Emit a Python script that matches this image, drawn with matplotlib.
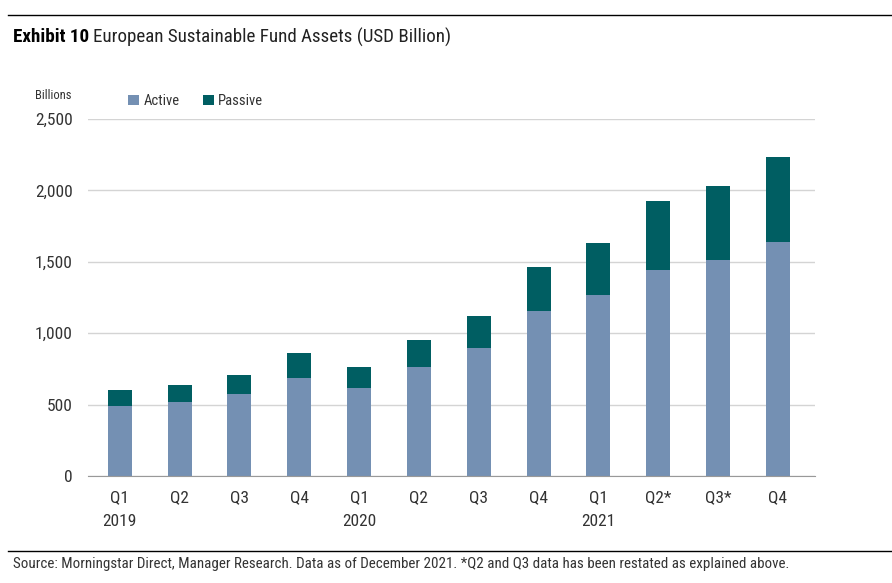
import matplotlib.pyplot as plt
from matplotlib import font_manager
import numpy as np

# =========================================================
# Data (USD billion)
# =========================================================
quarters = ["Q1\n2019", "Q2", "Q3", "Q4", "Q1\n2020", "Q2", "Q3", "Q4",
            "Q1\n2021", "Q2*", "Q3*", "Q4"]
active = [490, 518, 574, 686, 616, 763, 896, 1155, 1267, 1442, 1512, 1638]
passive = [112, 119, 133, 175, 147, 189, 224, 309, 365, 484, 519, 596]
yticks = [0, 500, 1000, 1500, 2000, 2500]

ACTIVE_COLOR = "#7490b3"
PASSIVE_COLOR = "#005e62"
TEXT_COLOR = "#333333"

# narrowest family that is available
names = {f.name for f in font_manager.fontManager.ttflist}
FONT = "DejaVu Sans"
for cand in ["Roboto Condensed", "Liberation Sans Narrow", "Roboto", "Liberation Sans"]:
    if cand in names:
        FONT = cand
        break
plt.rcParams["font.family"] = [FONT, "DejaVu Sans"]

fig = plt.figure(figsize=(8.92, 5.83), dpi=100)
ax = fig.add_axes([88 / 892, 1 - 476 / 583, (815 - 88) / 892, (476 - 119) / 583])

x = np.arange(len(quarters))
ax.bar(x, active, width=0.4, color=ACTIVE_COLOR, label="Active", zorder=3)
ax.bar(x, passive, width=0.4, bottom=active, color=PASSIVE_COLOR,
       label="Passive", zorder=3)

ax.set_xlim(-0.53, 11.62)
ax.set_ylim(0, 2500)
ax.set_yticks(yticks)
ax.set_yticklabels([f"{v:,}" for v in yticks])
ax.set_xticks(x)
ax.set_xticklabels(quarters, linespacing=1.8)
ax.tick_params(axis="both", length=0, labelsize=12.5, colors=TEXT_COLOR)
ax.tick_params(axis="x", pad=10)
ax.tick_params(axis="y", pad=11)

ax.grid(axis="y", color="#d4d4d4", linewidth=1, zorder=0)
for s in ["top", "right", "left"]:
    ax.spines[s].set_visible(False)
ax.spines["bottom"].set_color("#999999")
ax.spines["bottom"].set_zorder(4)

ax.legend(loc="lower left", bbox_to_anchor=(0.04, 1.0), ncol=2, frameon=False,
          fontsize=10.5, handlelength=0.75, handleheight=0.75, handletextpad=0.3,
          columnspacing=1.6, borderaxespad=0.35, labelcolor=TEXT_COLOR)

fig.text(71 / 892, 1 - 95 / 583, "Billions", ha="right", va="center",
         fontsize=9, color=TEXT_COLOR)

# header / footer
fig.add_artist(plt.Line2D([8 / 892, 1], [1 - 15 / 583] * 2, color="black", lw=1))
t = fig.text(13 / 892, 1 - 37 / 583, "Exhibit 10", ha="left", va="center",
             fontsize=13.7, fontweight="bold", color="black")
fig.canvas.draw()
bb = t.get_window_extent()
fig.text(bb.x1 / 892 + 0.004, 1 - 37 / 583, "European Sustainable Fund Assets (USD Billion)",
         ha="left", va="center", fontsize=13.7, color="#222222")

fig.add_artist(plt.Line2D([8 / 892, 1], [1 - 551 / 583] * 2, color="black", lw=1))
fig.text(13 / 892, 1 - 564 / 583,
         "Source: Morningstar Direct, Manager Research. Data as of December 2021. "
         "*Q2 and Q3 data has been restated as explained above.",
         ha="left", va="center", fontsize=10.8, color=TEXT_COLOR)

fig.savefig("out.png", dpi=100)
